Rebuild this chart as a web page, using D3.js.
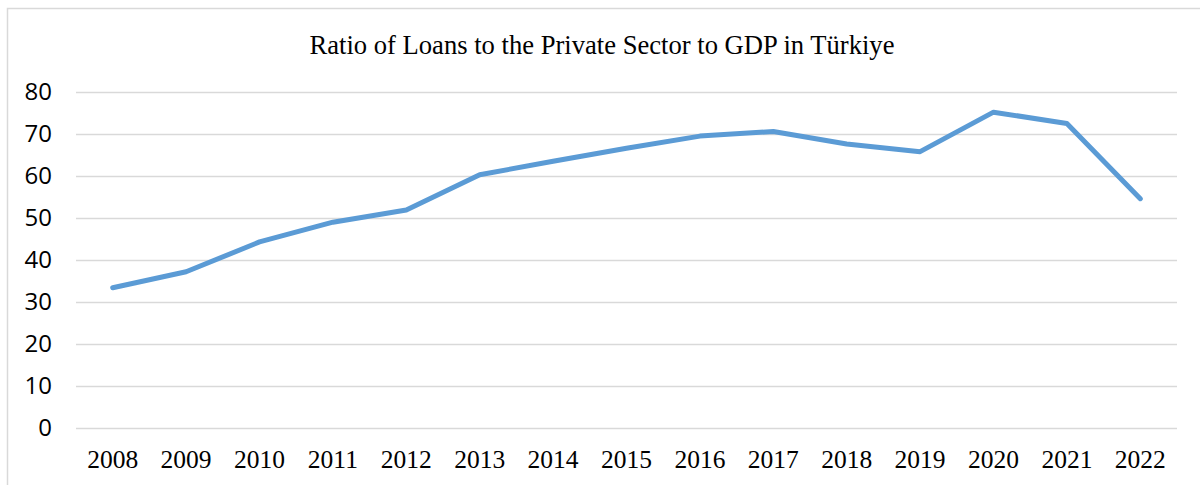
<!DOCTYPE html>
<html>
<head>
    <meta charset="utf-8">
    <title>Loans to Private Sector / GDP</title>
    <style>
        body { margin: 0; background: #fff; }
        svg { display: block; }
    </style>
</head>
<body>
    <svg class="chart"></svg>
    <script src="https://cdn.jsdelivr.net/npm/d3@7"></script>
    <script>
        const years = ["2008", "2009", "2010", "2011", "2012", "2013", "2014", "2015",
            "2016", "2017", "2018", "2019", "2020", "2021", "2022"]
        const ratio = [33.4, 37.2, 44.3, 49.0, 51.9, 60.3, 63.5, 66.6,
            69.5, 70.6, 67.6, 65.8, 75.2, 72.5, 54.6]
        const yTicks = [0, 10, 20, 30, 40, 50, 60, 70, 80]
        const title = "Ratio of Loans to the Private Sector to GDP in Türkiye"

        var width = 1200, height = 485
        const margin = { left: 76, right: 23, top: 92, down: 57 }

        var svg = d3.select(".chart")
            .attr("width", width)
            .attr("height", height)

        // outer frame (only top/left show inside the picture)
        svg.append("rect")
            .attr("x", 7.5).attr("y", 8.5)
            .attr("width", width).attr("height", height)
            .attr("fill", "none")
            .attr("stroke", "#d9d9d9")
            .attr("stroke-width", 1.5)

        var xScale = d3.scaleBand()
            .domain(years)
            .range([margin.left, width - margin.right])

        var yScale = d3.scaleLinear()
            .domain([0, 80])
            .range([height - margin.down, margin.top])

        // gridlines + y labels
        var yAxis = svg.append("g")
            .attr("transform", `translate(${margin.left}, 0)`)
            .call(d3.axisLeft(yScale)
                .tickValues(yTicks)
                .tickSize(-(width - margin.right - margin.left))
                .tickPadding(24))
        yAxis.select(".domain").remove()
        yAxis.selectAll(".tick line")
            .attr("stroke", "#d9d9d9")
            .attr("stroke-width", 1.4)
        yAxis.selectAll(".tick text")
            .attr("fill", "#000")
            .style("font-family", "'Open Sans', 'Noto Sans', sans-serif")
            .style("font-size", "24px")

        // x labels
        var xAxis = svg.append("g")
            .attr("transform", `translate(0, ${height - margin.down})`)
            .call(d3.axisBottom(xScale).tickSize(0).tickPadding(0))
        xAxis.select(".domain").remove()
        xAxis.selectAll(".tick text")
            .attr("dy", null)
            .attr("y", 40)
            .attr("fill", "#000")
            .style("font-family", "'Liberation Serif', 'Times New Roman', serif")
            .style("font-size", "25.5px")

        // the line
        var line = d3.line()
            .x((d, i) => xScale(years[i]) + xScale.bandwidth() / 2)
            .y(d => yScale(d))

        svg.append("path")
            .datum(ratio)
            .attr("d", line)
            .attr("fill", "none")
            .attr("stroke", "#5b9bd5")
            .attr("stroke-width", 5)
            .attr("stroke-linejoin", "round")
            .attr("stroke-linecap", "round")

        svg.append("text")
            .attr("x", 602)
            .attr("y", 54)
            .attr("text-anchor", "middle")
            .style("font-family", "'Liberation Serif', 'Times New Roman', serif")
            .style("font-size", "26.6px")
            .text(title)
    </script>
</body>
</html>
